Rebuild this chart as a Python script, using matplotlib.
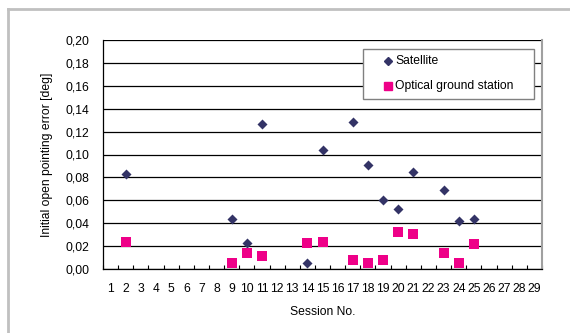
import matplotlib
matplotlib.use("Agg")
import matplotlib.pyplot as plt
from matplotlib.lines import Line2D
from matplotlib.patches import Rectangle

plt.rcParams['font.family'] = ['Liberation Sans', 'DejaVu Sans']

sessions = list(range(1, 30))
sat_sessions = [2, 9, 10, 11, 14, 15, 17, 18, 19, 20, 21, 23, 24, 25]
sat_error = [0.083, 0.044, 0.023, 0.127, 0.005, 0.104, 0.128, 0.091, 0.060,
             0.052, 0.085, 0.069, 0.042, 0.044]
ogs_sessions = [2, 9, 10, 11, 14, 15, 17, 18, 19, 20, 21, 23, 24, 25]
ogs_error = [0.024, 0.005, 0.014, 0.011, 0.023, 0.024, 0.008, 0.0055, 0.008,
             0.032, 0.031, 0.014, 0.005, 0.022]
y_ticks = [0.00, 0.02, 0.04, 0.06, 0.08, 0.10, 0.12, 0.14, 0.16, 0.18, 0.20]

FS = 8.7
W, H = 570, 333
fig = plt.figure(figsize=(W / 100, H / 100), dpi=100)

# outer chart frame (top and left edges)
fig.add_artist(Line2D([8 / W, 8 / W], [0, 1 - 9 / H], transform=fig.transFigure,
                      color='#c0c0c0', lw=2))
fig.add_artist(Line2D([8 / W, 1], [1 - 9 / H, 1 - 9 / H], transform=fig.transFigure,
                      color='#c0c0c0', lw=2))

left, right, top, bottom = 103, 542, 40, 269
ax = fig.add_axes([left / W, 1 - bottom / H, (right - left) / W, (bottom - top) / H])

ax.set_xlim(0.5, 29.5)
ax.set_ylim(0, 0.20)
ax.set_yticks(y_ticks)
ax.set_yticklabels([f"{v:.2f}".replace('.', ',') for v in y_ticks], fontsize=FS)
ax.yaxis.grid(True, color='black', lw=0.9)
ax.set_axisbelow(True)

ax.set_xticks(sessions)
ax.set_xticklabels([str(s) for s in sessions], fontsize=FS)
ax.set_xticks([s + 0.5 for s in range(0, 30)], minor=True)
ax.tick_params(axis='x', which='major', length=0, pad=10)
ax.tick_params(axis='x', which='minor', length=3, direction='in', color='black', width=0.8)
ax.tick_params(axis='y', length=0, pad=10)

for side in ('left', 'bottom'):
    ax.spines[side].set_color('black')
    ax.spines[side].set_linewidth(0.9)
ax.spines['top'].set_visible(False)
ax.spines['right'].set_color('#a0a0a0')
ax.spines['right'].set_linewidth(1.5)

ax.scatter(sat_sessions, sat_error, marker='D', s=26, color='#333366', zorder=3,
           linewidths=0)
ax.scatter(ogs_sessions, ogs_error, marker='s', s=48, color='#ee0088', zorder=3,
           linewidths=0)

ax.set_ylabel('Initial open pointing error [deg]', fontsize=FS, labelpad=9)
ax.set_xlabel('Session No.', fontsize=FS, labelpad=8)

# legend box
fig.add_artist(Rectangle((363 / W, 1 - 99 / H), (534 - 363) / W, 50 / H,
                         transform=fig.transFigure, facecolor='white',
                         edgecolor='#808080', lw=1.0, zorder=5))
fig.add_artist(Line2D([387.5 / W], [1 - 61 / H], transform=fig.transFigure,
                      marker='D', markersize=4.5, color='#333366', lw=0, zorder=6))
fig.add_artist(Line2D([387.5 / W], [1 - 86 / H], transform=fig.transFigure,
                      marker='s', markersize=5.5, color='#ee0088', lw=0, zorder=6))
fig.text(395 / W, 1 - 61 / H, 'Satellite', fontsize=FS, va='center', ha='left', zorder=6)
fig.text(395 / W, 1 - 86 / H, 'Optical ground station', fontsize=FS, va='center',
         ha='left', zorder=6)

fig.savefig('out.png', dpi=100)
